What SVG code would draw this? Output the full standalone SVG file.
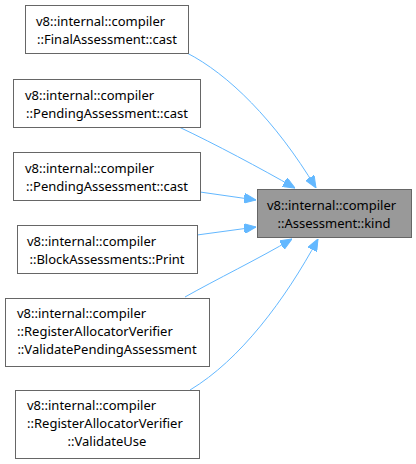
<svg xmlns="http://www.w3.org/2000/svg" width="416" height="464" viewBox="0 0 416 464">
<style>
.n{fill:#ffffff;stroke:#666666;stroke-width:1}
.t{fill:#999999;stroke:#666666;stroke-width:1}
text{font-family:"Noto Sans","DejaVu Sans",sans-serif;font-size:13px;fill:#000000}
.c{text-anchor:middle}
.e{fill:none;stroke:#63b8ff;stroke-width:1;marker-end:url(#ah)}
</style>
<defs>
<marker id="ah" viewBox="0 0 12 10" refX="12" refY="5" markerWidth="12" markerHeight="10" markerUnits="userSpaceOnUse" orient="auto">
<path d="M0,0 L12,5 L0,10 z" fill="#63b8ff" stroke="#63b8ff" stroke-width="1"/>
</marker>
</defs>
<rect width="416" height="464" fill="#ffffff"/>
<g id="edges">
<path class="e" d="M187,53 C228,74 275,120 316,188"/>
<path class="e" d="M179,127 C215,144 260,168 295,188"/>
<path class="e" d="M200,192 L256,200"/>
<path class="e" d="M197,235 L256,227"/>
<path class="e" d="M185,297 C215,280 260,258 292,239"/>
<path class="e" d="M190,390 C240,360 285,300 318,239"/>
</g>
<g id="target">
<rect class="t" x="257.5" y="189.5" width="154" height="48"/>
<text x="267" y="210">v8::internal::compiler</text>
<text class="c" x="334" y="228">::Assessment::kind</text>
</g>
<g id="n1">
<rect class="n" x="25.5" y="5.5" width="163" height="48"/>
<text x="36" y="26">v8::internal::compiler</text>
<text class="c" x="107" y="44">::FinalAssessment::cast</text>
</g>
<g id="n2">
<rect class="n" x="13.5" y="79.5" width="187" height="48"/>
<text x="25" y="100">v8::internal::compiler</text>
<text class="c" x="107" y="118">::PendingAssessment::cast</text>
</g>
<g id="n3">
<rect class="n" x="13.5" y="152.5" width="187" height="48"/>
<text x="25" y="173">v8::internal::compiler</text>
<text class="c" x="107" y="191">::PendingAssessment::cast</text>
</g>
<g id="n4">
<rect class="n" x="17.5" y="225.5" width="180" height="48"/>
<text x="27" y="246">v8::internal::compiler</text>
<text class="c" x="107" y="264">::BlockAssessments::Print</text>
</g>
<g id="n5">
<rect class="n" x="5.5" y="298.5" width="204" height="68"/>
<text x="17" y="318">v8::internal::compiler</text>
<text x="17" y="336">::RegisterAllocatorVerifier</text>
<text class="c" x="107" y="354">::ValidatePendingAssessment</text>
</g>
<g id="n6">
<rect class="n" x="15.5" y="390.5" width="184" height="68"/>
<text x="27" y="410">v8::internal::compiler</text>
<text x="27" y="428">::RegisterAllocatorVerifier</text>
<text class="c" x="107" y="446">::ValidateUse</text>
</g>
</svg>
